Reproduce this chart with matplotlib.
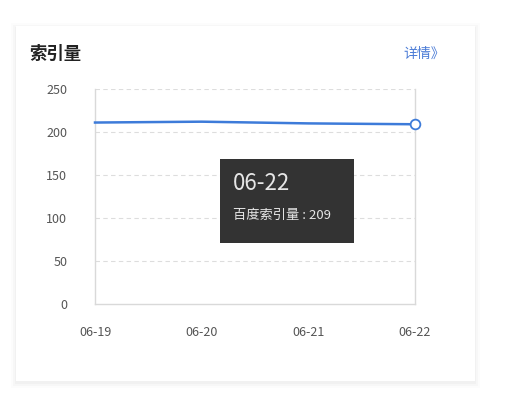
import matplotlib
matplotlib.use("Agg")
import matplotlib.pyplot as plt
from matplotlib.patches import Rectangle

plt.rcParams['font.family'] = ['Noto Sans CJK SC', 'DejaVu Sans']

dates = ["06-19", "06-20", "06-21", "06-22"]
index_counts = [211, 212, 210, 209]
yticks = [0, 50, 100, 150, 200, 250]
title = "索引量"
link_text = "详情》"
tip_date = "06-22"
tip_label = "百度索引量"

W, H = 530, 401
fig = plt.figure(figsize=(W / 100, H / 100), dpi=100)
fig.patch.set_facecolor("white")

# card with soft shadow
for d, a in [(5, 0.012), (3, 0.018), (1, 0.025)]:
    fig.patches.append(Rectangle(((16 - d) / W, 1 - (383 + d) / H), (459 + 2 * d) / W, (355 + 2 * d) / H,
                                 transform=fig.transFigure, facecolor="black", alpha=a,
                                 edgecolor="none", zorder=0))
fig.patches.append(Rectangle((16 / W, 1 - 381 / H), 459 / W, 355 / H, transform=fig.transFigure,
                             facecolor="white", edgecolor="none", zorder=1))

fig.text(29 / W, 1 - 54 / H, title, fontsize=12.5, color="#222222", va="center", ha="left",
         weight="bold", zorder=3)
fig.text(445 / W, 1 - 54 / H, link_text, fontsize=10, color="#4a7bd6", va="center", ha="right", zorder=3)

ax = fig.add_axes([95 / W, 1 - 304 / H, 320 / W, 215 / H])
ax.set_zorder(2)
ax.set_facecolor("none")
x = range(len(dates))
ax.plot(x, index_counts, color="#3d7bd9", lw=1.8, zorder=3, clip_on=False)
ax.plot([x[-1]], [index_counts[-1]], "o", ms=7, mfc="white", mec="#3d7bd9", mew=1.3,
        zorder=4, clip_on=False)

ax.set_xlim(0, len(dates) - 1)
ax.set_ylim(0, 250)
ax.set_yticks(yticks)
ax.set_xticks(list(x))
ax.set_xticklabels(dates)
for v in yticks[1:]:
    ax.axhline(v, color="#dddddd", lw=0.8, ls=(0, (4, 3)), zorder=1)
for s in ["left", "right", "bottom"]:
    ax.spines[s].set_color("#d9d9d9")
    ax.spines[s].set_linewidth(1)
ax.spines["top"].set_visible(False)
ax.tick_params(length=0, labelsize=9, colors="#555555")
ax.tick_params(axis="x", pad=16)
ax.tick_params(axis="y", pad=20)

# tooltip
fig.patches.append(Rectangle((220 / W, 1 - 243 / H), 134 / W, 84 / H, transform=fig.transFigure,
                             facecolor="#333333", edgecolor="none", zorder=10))
fig.text(233 / W, 1 - 183 / H, tip_date, fontsize=16, color="#e6e6e6", va="center", ha="left", zorder=11)
fig.text(233 / W, 1 - 215 / H, f"{tip_label} : {index_counts[-1]}", fontsize=9.5, color="#e6e6e6",
         va="center", ha="left", zorder=11)

fig.savefig("out.png", dpi=100)
